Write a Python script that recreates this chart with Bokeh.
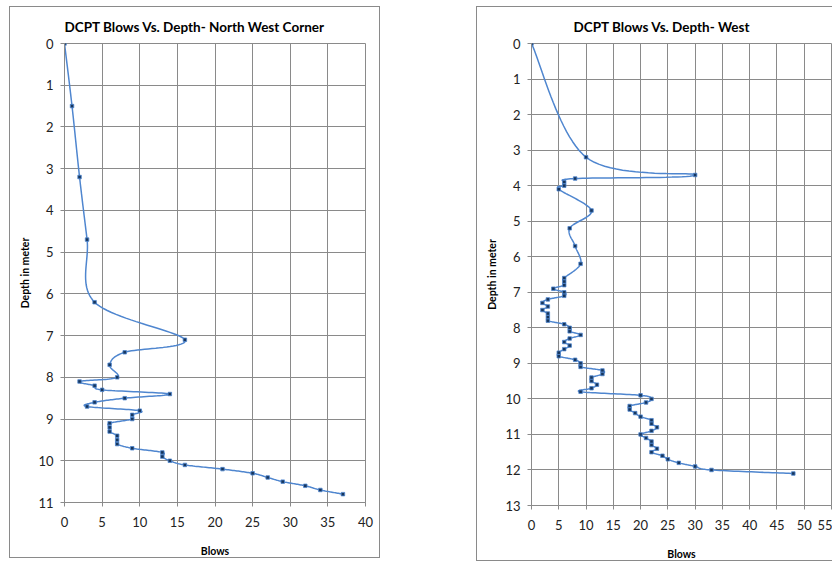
import numpy as np
from bokeh.plotting import figure
from bokeh.models import Range1d, FixedTicker, Spacer
from bokeh.layouts import row, column
from bokeh.embed import file_html
from bokeh.resources import INLINE

# ---- data: North West Corner ----
nw_blows = [0, 1, 2, 3, 4, 16, 8, 6, 7, 2, 4, 5, 14, 8, 4, 3, 10, 9, 9,
            6, 6, 6, 7, 7, 7, 9, 13, 13, 14, 16, 21, 25, 27, 29, 32, 34, 37]
nw_depth = [0, 1.5, 3.2, 4.7, 6.2, 7.1, 7.4, 7.7, 8.0, 8.1, 8.2, 8.3, 8.4, 8.5, 8.6, 8.7, 8.8, 8.9, 9.0,
            9.1, 9.2, 9.3, 9.4, 9.5, 9.6, 9.7, 9.8, 9.9, 10.0, 10.1, 10.2, 10.3, 10.4, 10.5, 10.6, 10.7, 10.8]

# ---- data: West ----
w_blows = [0, 10, 30, 8, 6, 6, 5, 11, 7, 8, 9,
           6, 6, 6, 4, 6, 6, 3, 2, 3, 2,
           3, 3, 3, 6, 7, 7, 9, 7, 6, 7,
           6, 5, 5, 8, 9, 9, 13, 13, 11, 11,
           12, 11, 9, 20, 22, 21, 18, 18, 19, 20,
           22, 22, 23, 22, 20, 21, 22, 22, 23, 22,
           24, 25, 27, 30, 33, 48]
w_depth = [0, 3.2, 3.7, 3.8, 3.9, 4.0, 4.1, 4.7, 5.2, 5.7, 6.2,
           6.6, 6.7, 6.8, 6.9, 7.0, 7.1, 7.2, 7.3, 7.4, 7.5,
           7.6, 7.7, 7.8, 7.9, 8.0, 8.1, 8.2, 8.3, 8.4, 8.5,
           8.6, 8.7, 8.8, 8.9, 9.0, 9.1, 9.2, 9.3, 9.4, 9.5,
           9.6, 9.7, 9.8, 9.9, 10.0, 10.1, 10.2, 10.3, 10.4, 10.5,
           10.6, 10.7, 10.8, 10.9, 11.0, 11.1, 11.2, 11.3, 11.4, 11.5,
           11.6, 11.7, 11.8, 11.9, 12.0, 12.1]

nw_yticks = list(range(0, 12))
nw_xticks = list(range(0, 45, 5))
w_yticks = list(range(0, 14))
w_xticks = list(range(0, 60, 5))

LINE = "#4F86CF"
GRID = "#8A8A8A"
FONT = "Lato"


def smooth(xs, ys, sx, sy, n=24):
    """Excel-like smoothed line (Catmull-Rom Bezier) computed in pixel-like space."""
    P = np.column_stack([np.asarray(xs, float) * sx, np.asarray(ys, float) * sy])
    m = len(P)
    out = [P[0]]
    t = np.linspace(0, 1, n)[1:, None]
    for i in range(m - 1):
        p0 = P[i - 1] if i > 0 else P[i]
        p1, p2 = P[i], P[i + 1]
        p3 = P[i + 2] if i + 2 < m else P[i + 1]
        b1 = p1 + (p2 - p0) / 6.0
        b2 = p2 - (p3 - p1) / 6.0
        seg = (1 - t) ** 3 * p1 + 3 * (1 - t) ** 2 * t * b1 + 3 * (1 - t) * t ** 2 * b2 + t ** 3 * p2
        out.extend(seg)
    out = np.array(out)
    return out[:, 0] / sx, out[:, 1] / sy


def make(title, xs, ys, xmax, ymax, xticks, yticks, width, height, bl, br, bt, bb, title_offset, sx, sy, styles):
    p = figure(width=width, height=height, x_range=Range1d(0, xmax), y_range=Range1d(ymax, 0),
               output_backend="svg", toolbar_location=None,
               min_border_left=bl, min_border_right=br, min_border_top=bt, min_border_bottom=bb,
               background_fill_color="white", border_fill_color="white")
    p.styles = styles
    p.title.text = title
    p.title.text_font = FONT
    p.title.text_font_size = "13.5px"
    p.title.text_font_style = "bold"
    p.title.text_color = "#000000"
    p.title.align = "left"
    p.title.offset = title_offset
    p.title.standoff = 18

    p.outline_line_color = GRID
    p.outline_line_width = 1

    for ax in (p.xaxis[0], p.yaxis[0]):
        ax.axis_line_color = GRID
        ax.major_tick_line_color = GRID
        ax.minor_tick_line_color = None
        ax.major_tick_in = 0
        ax.major_tick_out = 4
        ax.major_label_text_font = FONT
        ax.major_label_text_font_size = "13px"
        ax.major_label_text_color = "#222222"
        ax.axis_label_text_font = FONT
        ax.axis_label_text_font_size = "10.5px"
        ax.axis_label_text_font_style = "bold"
        ax.axis_label_text_color = "#000000"

    p.xaxis.ticker = FixedTicker(ticks=xticks)
    p.yaxis.ticker = FixedTicker(ticks=yticks)
    p.xaxis.axis_label = "Blows"
    p.yaxis.axis_label = "Depth in meter"
    p.xaxis.major_label_standoff = 10
    p.yaxis.major_label_standoff = 7
    p.xaxis.axis_label_standoff = 15
    p.yaxis.axis_label_standoff = 4

    p.xgrid.ticker = FixedTicker(ticks=xticks)
    p.ygrid.ticker = FixedTicker(ticks=yticks)
    p.xgrid.grid_line_color = GRID
    p.ygrid.grid_line_color = GRID

    cx, cy = smooth(xs, ys, sx, sy)
    p.line(cx, cy, line_color=LINE, line_width=1.5)
    p.scatter(xs, ys, marker="square", size=3.5, fill_color="#17365D", line_color=LINE, line_width=0.8)
    return p


box = {"border": "1px solid #8a8a8a", "box-sizing": "border-box"}
box_r = {"border-left": "1px solid #8a8a8a", "border-top": "1px solid #8a8a8a",
         "border-bottom": "1px solid #8a8a8a", "box-sizing": "border-box"}

p1 = make("DCPT Blows Vs. Depth- North West Corner", nw_blows, nw_depth, 40, 11,
          nw_xticks, nw_yticks, 371, 552, 54, 16, 35, 54, 0, 7.5, 41.9, box)
p2 = make("DCPT Blows Vs. Depth- West", w_blows, w_depth, 55, 13,
          w_xticks, w_yticks, 356, 555, 54, 2, 35, 46, 42, 5.4, 35.9, box_r)

layout = column(Spacer(width=10, height=6),
                row(Spacer(width=9, height=10), p1, Spacer(width=96, height=10), p2))

open("out.html", "w").write(file_html(layout, INLINE))
